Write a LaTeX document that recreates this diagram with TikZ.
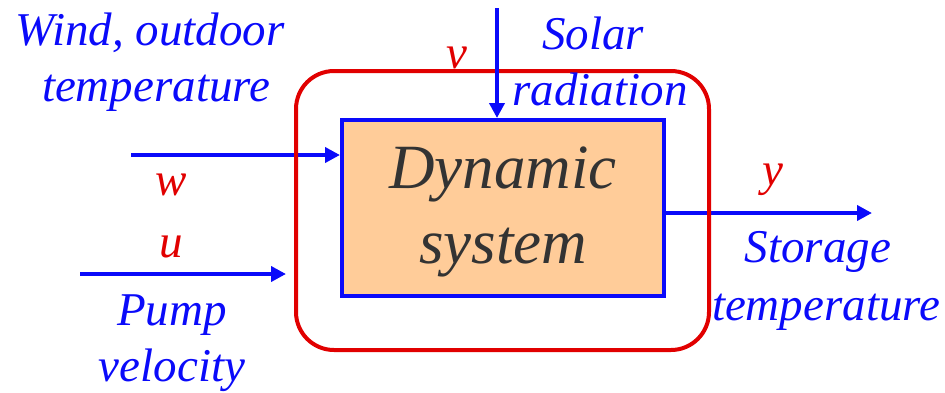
\documentclass[tikz,border=0pt]{standalone}
\usepackage{fontspec}
\setmainfont{Liberation Serif}
\usetikzlibrary{arrows.meta}
\definecolor{myblue}{RGB}{10,10,250}
\definecolor{myred}{RGB}{225,0,0}
\definecolor{peach}{RGB}{255,204,153}
\definecolor{dgray}{RGB}{51,51,51}
\tikzset{
  lbl/.style={text=myblue,font=\itshape\fontsize{47}{50}\selectfont,inner sep=0pt,align=center},
  var/.style={text=myred,font=\itshape\fontsize{47}{50}\selectfont,inner sep=0pt},
  sig/.style={draw=myblue,line width=4pt,-{Triangle[length=15pt,width=15pt]}},
}
\begin{document}
\begin{tikzpicture}[x=1pt,y=-1pt]
\useasboundingbox (0,0) rectangle (945,392);
\node[var,anchor=base] (v) at (457,68) {v};
\node[draw=myblue,line width=4pt,fill=peach,minimum width=322pt,minimum height=176pt,inner sep=0pt] (sys) at (503,208) {};
\node[text=dgray,font=\itshape\fontsize{63}{75}\selectfont,align=center] (t) at (503,212) {Dynamic\\system};
\coordinate (sTop) at (497,8);
\coordinate (wL) at (131,155);
\coordinate (uL) at (80,274);
\coordinate (uR) at (286,274);
\coordinate (yR) at (872,213);
\draw[sig] (wL) -- (wL -| sys.west);
\draw[sig] (uL) -- (uR);
\draw[sig] (sys.east |- yR) -- (yR);
\draw[myred,line width=4pt,rounded corners=38pt] (296,71) rectangle (709,350);
\draw[sig] (sTop) -- (sTop |- sys.north);
\node[lbl,anchor=base] (wind1) at (150,45) {Wind, outdoor};
\node[lbl,anchor=base] (wind2) at (156,101) {temperature};
\node[lbl,anchor=base] (sol1) at (593,49) {Solar};
\node[lbl,anchor=base] (sol2) at (600,105) {radiation};
\node[lbl,anchor=base] (st1) at (818,262) {Storage};
\node[lbl,anchor=base] (st2) at (826,320) {temperature};
\node[lbl,anchor=base] (p1) at (172,325) {Pump};
\node[lbl,anchor=base] (p2) at (172,381) {velocity};
\node[var,anchor=base] (w) at (171,195) {w};
\node[var,anchor=base] (u) at (171,257) {u};
\node[var,anchor=base] (y) at (773,185) {y};
\end{tikzpicture}
\end{document}
